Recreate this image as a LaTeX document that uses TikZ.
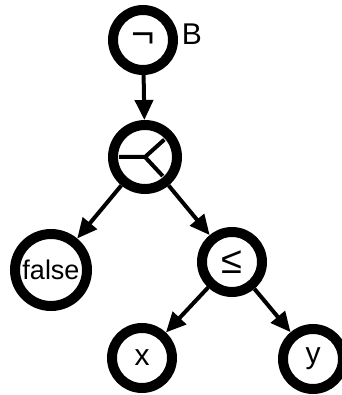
\documentclass[tikz,border=0pt]{standalone}
\usepackage{fontspec}
\setmainfont{Liberation Sans}
\usetikzlibrary{arrows.meta}
\begin{document}
\begin{tikzpicture}[x=1pt,y=-1pt,
    ring/.style={circle,draw,line width=10pt,minimum size=60pt,inner sep=0pt,
        font=\fontsize{30}{30}\selectfont},
    edge/.style={line width=4pt,-{Triangle[length=20pt,width=18pt]}}]
    \useasboundingbox (0,0) rectangle (341,395);

    \node[ring] (neg) at (143,40) {\fontsize{40}{40}\selectfont ¬};
    \node[ring,minimum size=64pt] (orv) at (145,157) {};
    \node[ring,minimum size=72pt,font=\fontsize{27}{27}\selectfont] (fls) at (51,270) {false};
    \node[ring] (leq) at (232,262) {\fontsize{38}{38}\selectfont ≤};
    \node[ring] (varx) at (142,358) {x};
    \node[ring] (vary) at (313,359) {y};
    \node[font=\fontsize{30}{30}\selectfont] (lblb) at (192,34) {B};

    \draw[line width=4pt]
        (orv.center) -- ++(180:26)
        (orv.center) -- ++(-42:26)
        (orv.center) -- ++(47:26);

    \draw[edge] (neg) -- (orv);
    \draw[edge] (orv) -- (fls);
    \draw[edge] (orv) -- (leq);
    \draw[edge] (leq) -- (varx);
    \draw[edge] (leq) -- (vary);
\end{tikzpicture}
\end{document}
